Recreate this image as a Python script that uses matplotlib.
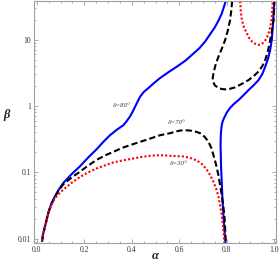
import numpy as np
import matplotlib
matplotlib.use("Agg")
import matplotlib.pyplot as plt
from matplotlib.ticker import FixedLocator, MultipleLocator, NullFormatter, LogLocator

# ---- data (alpha, log10 beta) ----
blue1_a = [0.022, 0.026, 0.035, 0.048, 0.06, 0.076, 0.09, 0.111, 0.145, 0.181, 0.215, 0.252,
           0.28, 0.308, 0.336, 0.364, 0.378, 0.392, 0.403, 0.414, 0.425, 0.435, 0.45, 0.47,
           0.495, 0.519, 0.555, 0.589, 0.625, 0.66, 0.685, 0.709, 0.73, 0.751, 0.766, 0.779, 0.796]
blue1_logb = [-2.03, -1.93, -1.80, -1.61, -1.48, -1.36, -1.27, -1.16, -1.03, -0.91, -0.78, -0.65,
              -0.54, -0.44, -0.36, -0.29, -0.23, -0.16, -0.09, -0.01, 0.07, 0.14, 0.21, 0.27,
              0.35, 0.42, 0.51, 0.59, 0.68, 0.79, 0.87, 0.97, 1.08, 1.19, 1.29, 1.39, 1.58]

blue2_a = [0.795, 0.79, 0.786, 0.782, 0.779, 0.776, 0.775, 0.774, 0.775, 0.777, 0.779, 0.783,
           0.789, 0.8, 0.814, 0.83, 0.85, 0.87, 0.892, 0.913, 0.934, 0.95, 0.962, 0.974,
           0.983, 0.99, 0.994, 0.998, 1.0]
blue2_logb = [-2.06, -1.85, -1.64, -1.4, -1.14, -0.9, -0.74, -0.58, -0.44, -0.35, -0.29, -0.23,
              -0.18, -0.1, -0.03, 0.03, 0.09, 0.16, 0.24, 0.31, 0.39, 0.48, 0.59, 0.71,
              0.84, 1.0, 1.19, 1.4, 1.58]

black1_a = [0.022, 0.026, 0.035, 0.048, 0.06, 0.076, 0.09, 0.111, 0.145, 0.181, 0.215, 0.252,
            0.29, 0.322, 0.36, 0.392, 0.435, 0.478, 0.519, 0.561, 0.58, 0.603, 0.625, 0.646,
            0.668, 0.688, 0.706, 0.723, 0.735, 0.744, 0.755, 0.765, 0.772, 0.779, 0.785, 0.79,
            0.793, 0.796]
black1_logb = [-2.03, -1.93, -1.80, -1.61, -1.48, -1.37, -1.28, -1.18, -1.08, -0.99, -0.9, -0.81,
               -0.74, -0.69, -0.63, -0.59, -0.54, -0.49, -0.44, -0.41, -0.39, -0.37, -0.365, -0.37,
               -0.385, -0.41, -0.46, -0.54, -0.63, -0.74, -0.88, -1.04, -1.19, -1.34, -1.49, -1.64,
               -1.82, -2.06]

black2_a = [0.823, 0.819, 0.814, 0.805, 0.793, 0.779, 0.765, 0.753, 0.744, 0.741, 0.742, 0.75,
            0.765, 0.78, 0.793, 0.815, 0.835, 0.862, 0.892, 0.914, 0.934, 0.95, 0.962, 0.974,
            0.983, 0.991, 0.997, 1.001]
black2_logb = [1.58, 1.43, 1.29, 1.14, 0.99, 0.86, 0.74, 0.62, 0.49, 0.42, 0.37, 0.31,
               0.27, 0.255, 0.25, 0.26, 0.28, 0.33, 0.39, 0.45, 0.52, 0.6, 0.69, 0.83,
               0.99, 1.14, 1.29, 1.58]

red1_a = [0.022, 0.026, 0.035, 0.048, 0.06, 0.076, 0.09, 0.111, 0.145, 0.181, 0.215, 0.252,
          0.29, 0.322, 0.36, 0.392, 0.435, 0.478, 0.519, 0.561, 0.59, 0.617, 0.645, 0.674,
          0.697, 0.716, 0.73, 0.744, 0.755, 0.765, 0.772, 0.779, 0.785, 0.79]
red1_logb = [-2.03, -1.93, -1.81, -1.62, -1.5, -1.39, -1.33, -1.26, -1.16, -1.07, -1.0, -0.94,
             -0.89, -0.85, -0.82, -0.80, -0.77, -0.75, -0.74, -0.75, -0.755, -0.76, -0.78, -0.82,
             -0.88, -0.96, -1.04, -1.14, -1.24, -1.36, -1.5, -1.64, -1.82, -2.06]

red2_a = [0.857, 0.859, 0.864, 0.873, 0.885, 0.895, 0.906, 0.92, 0.934, 0.947, 0.959, 0.968,
          0.976, 0.984, 0.99, 0.994]
red2_logb = [1.58, 1.43, 1.29, 1.18, 1.09, 1.02, 0.97, 0.935, 0.92, 0.93, 0.97, 1.02,
             1.09, 1.2, 1.34, 1.58]

labels = ["δ=80°", "δ=70°", "δ=30°"]
label_a = [0.357, 0.589, 0.596]
label_b = [1.0, 0.56, 0.138]

xticks = [0.0, 0.2, 0.4, 0.6, 0.8, 1.0]
xticklabels = ["0.0", "0.2", "0.4", "0.6", "0.8", "1.0"]
yticks = [0.01, 0.1, 1, 10]
yticklabels = ["0.01", "0.1", "1", "10"]

# ---- figure ----
serif = ["Liberation Serif", "DejaVu Serif"]
plt.rcParams["font.family"] = serif

fig = plt.figure(figsize=(2.8, 2.72), dpi=100)
ax = fig.add_axes([0.121, 0.107, 0.865, 0.889])

def b(v):
    return np.power(10.0, np.asarray(v))

lw = 1.5
dash = (0, (3, 1.5))
dot = (0, (1, 1))
ax.plot(blue1_a, b(blue1_logb), color=(0, 0, 1), lw=lw)
ax.plot(blue2_a, b(blue2_logb), color=(0, 0, 1), lw=lw)
ax.plot(black1_a, b(black1_logb), color="black", lw=lw, linestyle=dash, dash_capstyle="butt")
ax.plot(black2_a, b(black2_logb), color="black", lw=lw, linestyle=dash, dash_capstyle="butt")
ax.plot(red1_a, b(red1_logb), color=(1, 0, 0), lw=lw, linestyle=dot, dash_capstyle="butt")
ax.plot(red2_a, b(red2_logb), color=(1, 0, 0), lw=lw, linestyle=dot, dash_capstyle="butt")

for t, a, bb in zip(labels, label_a, label_b):
    ax.text(a, bb, t, fontsize=5, style="italic", color="#444444", ha="center", va="center",
            family=serif)

ax.set_yscale("log")
ax.set_xlim(-0.0127, 1.008)
ax.set_ylim(0.0087, 37.9)

ax.xaxis.set_major_locator(FixedLocator(xticks))
ax.set_xticklabels(xticklabels)
ax.xaxis.set_minor_locator(MultipleLocator(0.05))
ax.yaxis.set_major_locator(FixedLocator(yticks))
ax.set_yticklabels(yticklabels)
ax.yaxis.set_minor_locator(LogLocator(base=10, subs=np.arange(2, 10), numticks=20))
ax.yaxis.set_minor_formatter(NullFormatter())

frame = "#a0a0a0"
for s in ax.spines.values():
    s.set_color(frame)
    s.set_linewidth(0.8)
ax.tick_params(which="both", direction="in", top=True, right=True, color=frame,
               labelsize=5.5, labelcolor="#333333", width=0.6, pad=2)
ax.tick_params(which="major", length=3)
ax.tick_params(which="minor", length=1.6)

fig.text(155 / 280, 1 - 256 / 272, "α", fontsize=9, style="italic", fontweight="bold",
         color="#222222", ha="center", va="center")
fig.text(7 / 280, 1 - 115 / 272, "β", fontsize=9, style="italic", fontweight="bold",
         color="#222222", ha="center", va="center")

fig.savefig("out.png", dpi=100)
